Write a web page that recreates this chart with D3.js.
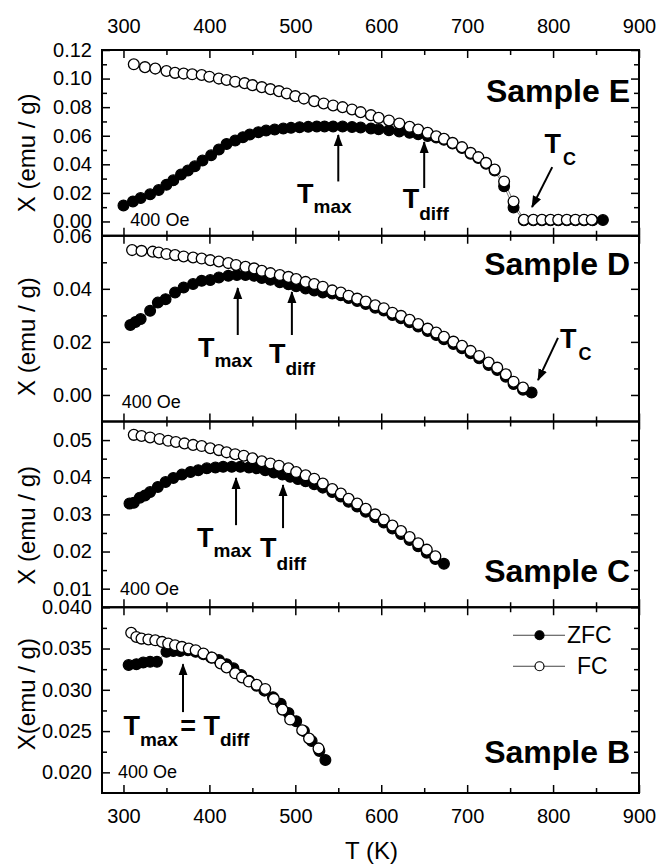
<!DOCTYPE html>
<html>
<head>
<meta charset="utf-8">
<script src="https://cdn.jsdelivr.net/npm/d3@7"></script>
<style>
  body { margin: 0; background: #fff; }
  svg { font-family: "Liberation Sans", Arial, sans-serif; }
</style>
</head>
<body>
<svg id="chart" width="658" height="865"></svg>
<script>
const width = 658
const height = 865
const plotLeft = 102
const plotRight = 639
const plotTop = 50
const plotBottom = 793
const panelH = (plotBottom - plotTop) / 4

// temperature axis (K)
const tMajor = [300, 400, 500, 600, 700, 800, 900]
const tMinor = [350, 450, 550, 650, 750, 850]

// Sample E  [T (K), X (emu/g)]
const zfcE = [[300,0.0112],[311,0.0140],[320,0.0164],[331,0.0190],[341,0.0220],[350,0.0257],[358,0.0288],[367,0.0328],[375,0.0356],[383,0.0386],
  [392,0.0426],[402,0.0463],[411,0.0503],[420,0.0542],[430,0.0566],[439,0.0590],[447,0.0608],[457,0.0625],[466,0.0636],[476,0.0643],
  [486,0.0650],[495,0.0655],[505,0.0660],[515,0.0662],[525,0.0665],[534,0.0665],[544,0.0665],[555,0.0664],[566,0.0661],[576,0.0657],
  [588,0.0651],[597,0.0645],[609,0.0638],[621,0.0630],[633,0.0620],[643,0.0610],[654,0.0598],[664,0.0588],[673,0.0572],[683,0.0545],
  [694,0.0514],[704,0.0474],[713,0.0444],[722,0.0404],[732,0.0356],[743,0.0246],[754,0.0098],[766,0.0008],[777,0.0008],[787,0.0008],
  [797,0.0008],[806,0.0008],[816,0.0008],[826,0.0008],[836,0.0008],[846,0.0008],[858,0.0010]]
const fcE = [[312,0.1100],[325,0.1080],[337,0.1070],[350,0.1053],[360,0.1040],[370,0.1035],[380,0.1030],[391,0.1025],[400,0.1013],[411,0.1000],
  [420,0.0990],[430,0.0978],[441,0.0968],[450,0.0954],[461,0.0940],[471,0.0926],[481,0.0912],[490,0.0896],[500,0.0877],[510,0.0860],
  [522,0.0842],[533,0.0826],[544,0.0812],[555,0.0800],[566,0.0784],[576,0.0765],[588,0.0744],[597,0.0725],[609,0.0707],[621,0.0686],
  [633,0.0662],[643,0.0643],[654,0.0620],[664,0.0596],[673,0.0578],[683,0.0550],[694,0.0520],[704,0.0480],[713,0.0450],[722,0.0410],
  [732,0.0363],[743,0.0280],[754,0.0140],[766,0.0012],[777,0.0012],[787,0.0012],[797,0.0012],[806,0.0012],[816,0.0012],[826,0.0012],
  [836,0.0012],[845,0.0012]]
const yMajorE = [0, 0.02, 0.04, 0.06, 0.08, 0.10, 0.12]
const yMinorE = [0.01, 0.03, 0.05, 0.07, 0.09, 0.11]

// Sample D
const zfcD = [[308,0.0264],[314,0.0275],[320,0.0286],[331,0.0317],[340,0.0348],[349,0.0361],[360,0.0386],[370,0.0405],[381,0.0418],[391,0.0430],
  [401,0.0433],[411,0.0443],[422,0.0449],[432,0.0452],[442,0.0452],[452,0.0449],[461,0.0441],[471,0.0434],[482,0.0425],[492,0.0417],
  [501,0.0410],[512,0.0401],[522,0.0394],[532,0.0386],[543,0.0382],[553,0.0376],[562,0.0365],[572,0.0354],[582,0.0343],[593,0.0329],
  [603,0.0318],[613,0.0301],[623,0.0289],[633,0.0274],[643,0.0258],[654,0.0241],[664,0.0226],[673,0.0210],[684,0.0192],[694,0.0176],
  [704,0.0157],[714,0.0138],[725,0.0113],[735,0.0094],[745,0.0069],[754,0.0041],[765,0.0020],[775,0.0009]]
const fcD = [[310,0.0546],[321,0.0543],[334,0.0540],[341,0.0537],[350,0.0531],[360,0.0527],[370,0.0522],[381,0.0518],[391,0.0514],[401,0.0508],
  [411,0.0503],[422,0.0497],[431,0.0490],[442,0.0483],[452,0.0477],[461,0.0468],[471,0.0459],[482,0.0452],[492,0.0445],[501,0.0437],
  [512,0.0426],[522,0.0418],[532,0.0408],[543,0.0394],[553,0.0386],[562,0.0374],[572,0.0363],[582,0.0352],[593,0.0338],[603,0.0327],
  [613,0.0310],[623,0.0298],[633,0.0283],[643,0.0267],[654,0.0250],[664,0.0235],[673,0.0219],[684,0.0201],[694,0.0185],[704,0.0166],
  [714,0.0147],[725,0.0122],[735,0.0103],[745,0.0078],[754,0.0050],[765,0.0028]]
const yMajorD = [0, 0.02, 0.04, 0.06]
const yMinorD = [0.01, 0.03, 0.05]

// Sample C
const zfcC = [[307,0.0329],[312,0.0331],[319,0.0345],[325,0.0351],[331,0.0360],[340,0.0374],[349,0.0387],[358,0.0398],[368,0.0407],[378,0.0414],
  [387,0.0419],[397,0.0424],[407,0.0426],[416,0.0428],[426,0.0428],[436,0.0428],[446,0.0426],[455,0.0424],[465,0.0419],[475,0.0413],
  [485,0.0407],[494,0.0401],[503,0.0395],[512,0.0389],[522,0.0381],[532,0.0372],[543,0.0360],[553,0.0348],[562,0.0334],[572,0.0321],
  [582,0.0307],[593,0.0292],[603,0.0278],[613,0.0262],[623,0.0247],[633,0.0231],[643,0.0214],[653,0.0197],[663,0.0180],[673,0.0167]]
const fcC = [[312,0.0514],[321,0.0511],[331,0.0507],[342,0.0503],[352,0.0498],[361,0.0495],[371,0.0491],[381,0.0487],[391,0.0484],[401,0.0478],
  [411,0.0473],[420,0.0467],[430,0.0462],[440,0.0458],[450,0.0451],[461,0.0443],[471,0.0437],[481,0.0431],[492,0.0424],[501,0.0414],
  [512,0.0405],[522,0.0396],[532,0.0383],[543,0.0368],[553,0.0356],[562,0.0342],[572,0.0329],[582,0.0315],[593,0.0300],[603,0.0286],
  [613,0.0270],[623,0.0255],[633,0.0239],[643,0.0222],[653,0.0205],[663,0.0187]]
const yMajorC = [0.01, 0.02, 0.03, 0.04, 0.05]
const yMinorC = [0.015, 0.025, 0.035, 0.045]

// Sample B
const zfcB = [[306,0.0330],[315,0.0331],[323,0.0333],[331,0.0334],[339,0.0334],[350,0.0346],[358,0.0347],[366,0.0347],[375,0.0348],[384,0.0346],
  [393,0.0343],[402,0.0339],[411,0.0336],[420,0.0331],[428,0.0326],[437,0.0318],[446,0.0311],[455,0.0305],[464,0.0299],[474,0.0291],
  [483,0.0283],[492,0.0272],[501,0.0262],[510,0.0250],[519,0.0238],[528,0.0226],[535,0.0215]]
const fcB = [[309,0.0369],[315,0.0364],[321,0.0362],[329,0.0361],[337,0.0360],[345,0.0358],[352,0.0356],[360,0.0354],[368,0.0352],[376,0.0350],
  [384,0.0348],[393,0.0344],[403,0.0339],[413,0.0332],[420,0.0327],[430,0.0320],[438,0.0315],[446,0.0310],[455,0.0306],[465,0.0301],
  [475,0.0289],[485,0.0276],[494,0.0264],[508,0.0251],[516,0.0241],[527,0.0229]]
const yMajorB = [0.020, 0.025, 0.030, 0.035, 0.040]
const yMinorB = [0.0225, 0.0275, 0.0325, 0.0375]

// annotations in data units: arrows [T1, X1, T2, X2], labels [T, X, subscript, dy]
const arrowsE = [[550, 0.028, 550, 0.0605], [650, 0.0234, 650, 0.0556], [799, 0.038, 775.5, 0.0101]]
const labelsE = [[502, 0.013, 'max', 10], [625, 0.0094, 'diff', 12], [790, 0.0479, 'C', 12]]
const arrowsD = [[433, 0.0226, 433, 0.0403], [496, 0.0226, 496, 0.0388], [805.7, 0.0215, 782.5, 0.0056]]
const labelsD = [[386.7, 0.0143, 'max', 10], [469.4, 0.0119, 'diff', 12], [808, 0.0177, 'C', 12]]
const arrowsC = [[431, 0.0271, 431, 0.0398], [485.7, 0.0263, 485.7, 0.0379]]
const labelsC = [[385.6, 0.0213, 'max', 10], [459, 0.0186, 'diff', 13]]
const arrowsB = [[369.3, 0.0273, 369.3, 0.0331]]
const labelsB = [[300, 0.0245, 'max', 11], [393, 0.0245, 'diff', 11]]

const panels = [
  {name: 'Sample E', zfc: zfcE, fc: fcE, domain: [-0.01, 0.12], major: yMajorE, minor: yMinorE, fmt: '.2f',
   arrows: arrowsE, labels: labelsE, nameY: 0.0836, oe: [308, -0.0032], title: 'X (emu / g)', titleShift: 10},
  {name: 'Sample D', zfc: zfcD, fc: fcD, domain: [-0.01, 0.06], major: yMajorD, minor: yMinorD, fmt: '.2f',
   arrows: arrowsD, labels: labelsD, nameY: 0.0452, oe: [298, -0.0049], title: 'X (emu / g)', titleShift: 8},
  {name: 'Sample C', zfc: zfcC, fc: fcC, domain: [0.005, 0.055], major: yMajorC, minor: yMinorC, fmt: '.2f',
   arrows: arrowsC, labels: labelsC, nameY: 0.0118, oe: [296, 0.0083], title: 'X (emu / g)', titleShift: 11},
  {name: 'Sample B', zfc: zfcB, fc: fcB, domain: [0.0175, 0.040], major: yMajorB, minor: yMinorB, fmt: '.3f',
   arrows: arrowsB, labels: labelsB, nameY: 0.0211, oe: [293.6, 0.0193], title: 'X(emu / g)', titleShift: -6}
]

const svg = d3.select('#chart')
svg.append('rect').attr('width', width).attr('height', height).attr('fill', '#fff')

svg.append('defs').append('marker')
  .attr('id', 'arrow')
  .attr('viewBox', '0 -5 12 10')
  .attr('refX', 11).attr('refY', 0)
  .attr('markerWidth', 12).attr('markerHeight', 10)
  .attr('markerUnits', 'userSpaceOnUse')
  .attr('orient', 'auto')
  .append('path').attr('d', 'M0,-4.5L12,0L0,4.5Z').attr('fill', '#000')

const x = d3.scaleLinear().domain([275, 900]).range([plotLeft, plotRight])

function styleAxis(g) {
  g.select('.domain').remove()
  g.attr('font-family', null).attr('font-size', null)
  g.selectAll('.tick line').attr('stroke', '#000').attr('stroke-width', 1.5)
  g.selectAll('.tick text').attr('fill', '#000').attr('font-size', 20)
}

panels.forEach((p, i) => {
  const y0 = plotTop + i * panelH
  const y1 = y0 + panelH
  const y = d3.scaleLinear().domain(p.domain).range([y1, y0])
  const g = svg.append('g')

  // left / right
  g.append('g').attr('transform', `translate(${plotLeft},0)`)
    .call(d3.axisLeft(y).tickValues(p.major).tickFormat(d3.format(p.fmt)).tickSizeInner(-8).tickSizeOuter(0).tickPadding(10))
    .call(styleAxis)
  g.append('g').attr('transform', `translate(${plotLeft},0)`)
    .call(d3.axisLeft(y).tickValues(p.minor).tickFormat('').tickSizeInner(-5).tickSizeOuter(0))
    .call(styleAxis)
  g.append('g').attr('transform', `translate(${plotRight},0)`)
    .call(d3.axisRight(y).tickValues(p.major).tickFormat('').tickSizeInner(-8).tickSizeOuter(0))
    .call(styleAxis)
  g.append('g').attr('transform', `translate(${plotRight},0)`)
    .call(d3.axisRight(y).tickValues(p.minor).tickFormat('').tickSizeInner(-5).tickSizeOuter(0))
    .call(styleAxis)

  // top / bottom
  g.append('g').attr('transform', `translate(0,${y0})`)
    .call(d3.axisTop(x).tickValues(tMajor).tickFormat(i === 0 ? d3.format('d') : '').tickSizeInner(-8).tickSizeOuter(0).tickPadding(17))
    .call(styleAxis)
  g.append('g').attr('transform', `translate(0,${y0})`)
    .call(d3.axisTop(x).tickValues(tMinor).tickFormat('').tickSizeInner(-5).tickSizeOuter(0))
    .call(styleAxis)
  g.append('g').attr('transform', `translate(0,${y1})`)
    .call(d3.axisBottom(x).tickValues(tMajor).tickFormat(i === 3 ? d3.format('d') : '').tickSizeInner(-8).tickSizeOuter(0).tickPadding(16))
    .call(styleAxis)
  g.append('g').attr('transform', `translate(0,${y1})`)
    .call(d3.axisBottom(x).tickValues(tMinor).tickFormat('').tickSizeInner(-5).tickSizeOuter(0))
    .call(styleAxis)

  // connecting lines
  const line = d3.line().x(d => x(d[0])).y(d => y(d[1]))
  g.append('path').datum(p.zfc).attr('d', line).attr('fill', 'none').attr('stroke', '#555').attr('stroke-width', 0.8)
  g.append('path').datum(p.fc).attr('d', line).attr('fill', 'none').attr('stroke', '#555').attr('stroke-width', 0.8)

  // ZFC (filled) under FC (open)
  g.append('g').selectAll('circle').data(p.zfc).join('circle')
    .attr('cx', d => x(d[0])).attr('cy', d => y(d[1])).attr('r', 5.4)
    .attr('fill', '#000').attr('stroke', '#000').attr('stroke-width', 1.2)
  g.append('g').selectAll('circle').data(p.fc).join('circle')
    .attr('cx', d => x(d[0])).attr('cy', d => y(d[1])).attr('r', 5.4)
    .attr('fill', '#fff').attr('stroke', '#000').attr('stroke-width', 1.3)

  // frame
  g.append('rect').attr('x', plotLeft).attr('y', y0).attr('width', plotRight - plotLeft).attr('height', panelH)
    .attr('fill', 'none').attr('stroke', '#000').attr('stroke-width', 2)

  // arrows
  g.selectAll('line.arrow').data(p.arrows).join('line').attr('class', 'arrow')
    .attr('x1', d => x(d[0])).attr('y1', d => y(d[1]))
    .attr('x2', d => x(d[2])).attr('y2', d => y(d[3]))
    .attr('stroke', '#000').attr('stroke-width', 2).attr('marker-end', 'url(#arrow)')

  // T labels
  p.labels.forEach(l => {
    const t = g.append('text').attr('x', x(l[0])).attr('y', y(l[1]))
      .attr('font-weight', 'bold').attr('font-size', 27).text('T')
    t.append('tspan').attr('dy', l[3]).attr('dx', l[2] === 'C' ? 2 : 0)
      .attr('font-size', l[2] === 'C' ? 18 : 19).text(l[2])
  })

  // sample name
  g.append('text').attr('x', plotRight - 9).attr('y', y(p.nameY)).attr('text-anchor', 'end')
    .attr('font-weight', 'bold').attr('font-size', 32).text(p.name)

  // field
  g.append('text').attr('x', x(p.oe[0])).attr('y', y(p.oe[1])).attr('font-size', 18).text('400 Oe')

  // y title
  svg.append('text').attr('transform', `translate(35,${(y0 + y1) / 2 + p.titleShift}) rotate(-90)`)
    .attr('text-anchor', 'middle').attr('font-size', 24).text(p.title)

  if (i === 3) {
    // "=" between Tmax and Tdiff
    g.append('text').attr('x', x(366)).attr('y', y(0.0245)).attr('font-weight', 'bold').attr('font-size', 27).text('=')

    // legend
    const lg = g.append('g').attr('transform', `translate(0,${y0})`)
    const rows = [{label: 'ZFC', fill: '#000', dy: 28, tx: 567}, {label: 'FC', fill: '#fff', dy: 59, tx: 577}]
    rows.forEach(r => {
      lg.append('line').attr('x1', 513).attr('x2', 565).attr('y1', r.dy).attr('y2', r.dy)
        .attr('stroke', '#444').attr('stroke-width', 1)
      lg.append('circle').attr('cx', 539.5).attr('cy', r.dy).attr('r', 4.5)
        .attr('fill', r.fill).attr('stroke', '#000').attr('stroke-width', 1.2)
      lg.append('text').attr('x', r.tx).attr('y', r.dy + 8).attr('font-size', 23).text(r.label)
    })
  }
})

// x title
svg.append('text').attr('x', (plotLeft + plotRight) / 2 + 1).attr('y', 859).attr('text-anchor', 'middle')
  .attr('font-size', 24).text('T (K)')
</script>
</body>
</html>
